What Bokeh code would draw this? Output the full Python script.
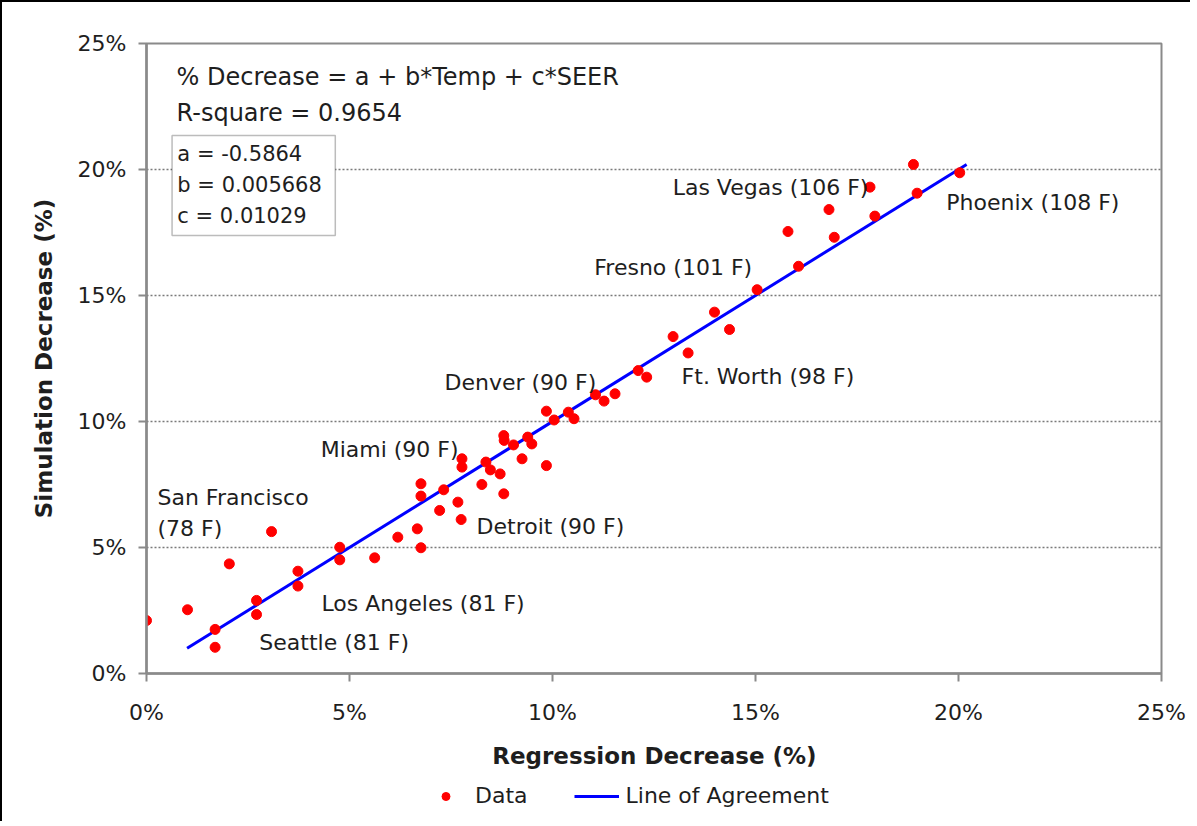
from bokeh.plotting import figure
from bokeh.layouts import column
from bokeh.models import (Range1d, FixedTicker, PrintfTickFormatter, Label,
                          BoxAnnotation, Legend, LegendItem, ColumnDataSource)
from bokeh.embed import file_html
from bokeh.resources import INLINE

# ---- data (percent) ----
regression = [0.00, 1.01, 1.69, 1.69, 2.04, 2.71, 2.71, 3.08, 3.73, 3.73,
              4.76, 4.76, 5.62, 6.19, 6.67, 6.76, 6.76, 6.76, 7.32, 7.22,
              7.67, 7.75, 7.77, 7.77, 8.26, 8.36, 8.47, 8.71, 8.80, 8.80,
              8.81, 9.04, 9.25, 9.39, 9.49, 9.85, 9.85, 10.04, 10.39, 10.53,
              11.06, 11.27, 11.54, 12.11, 12.32, 12.97, 13.34, 13.99, 14.36, 15.04,
              15.80, 16.06, 16.81, 16.94, 17.82, 17.94, 18.89, 18.98, 20.03]
simulation = [2.10, 2.53, 1.75, 1.04, 4.35, 2.90, 2.34, 5.63, 4.06, 3.47,
              5.01, 4.51, 4.59, 5.41, 5.74, 4.99, 7.53, 7.04, 7.29, 6.47,
              6.80, 6.11, 8.52, 8.19, 7.50, 8.39, 8.08, 7.92, 7.13, 9.44,
              9.25, 9.07, 8.52, 9.38, 9.11, 8.25, 10.41, 10.06, 10.37, 10.11,
              11.06, 10.81, 11.10, 12.02, 11.76, 13.37, 12.72, 14.34, 13.65, 15.23,
              17.54, 16.16, 18.41, 17.31, 19.30, 18.15, 20.20, 19.06, 19.87]
agree_x = [1.0, 20.2]
agree_y = [1.0, 20.2]
ticks = [0, 5, 10, 15, 20, 25]
grid_ticks = [5, 10, 15, 20]
x_title = "Regression Decrease (%)"
y_title = "Simulation Decrease (%)"
series_names = ["Data", "Line of Agreement"]

FONT = "DejaVu Sans"
TXT = "#1e1e1e"
GRAY = "#8a8a8a"
BORDER = "2px solid black"
RED = "#ff0000"
BLUE = "#0000ff"

p = figure(width=1190, height=731,
           output_backend="svg", toolbar_location=None,
           x_range=Range1d(0, 25), y_range=Range1d(0, 25),
           min_border_left=144, min_border_right=31, min_border_top=41,
           min_border_bottom=60, background_fill_color="white",
           border_fill_color="white",
           styles={"border-left": BORDER, "border-top": BORDER})

p.outline_line_color = GRAY
p.outline_line_width = 2
p.xgrid.visible = False
p.ygrid.ticker = FixedTicker(ticks=grid_ticks)
p.ygrid.grid_line_color = "#7a7a7a"
p.ygrid.grid_line_dash = "2 2"
p.ygrid.grid_line_width = 1.5

for ax in (p.xaxis[0], p.yaxis[0]):
    ax.ticker = FixedTicker(ticks=ticks)
    ax.formatter = PrintfTickFormatter(format="%d%%")
    ax.axis_line_color = GRAY
    ax.axis_line_width = 2.5
    ax.major_tick_line_color = GRAY
    ax.major_tick_line_width = 2
    ax.major_tick_in = 0
    ax.major_tick_out = 8
    ax.minor_tick_line_color = None
    ax.major_label_text_font = FONT
    ax.major_label_text_font_size = "22px"
    ax.major_label_text_color = TXT
    ax.axis_label_text_font = FONT
    ax.axis_label_text_font_size = "23px"
    ax.axis_label_text_font_style = "bold"
    ax.axis_label_text_color = TXT

p.yaxis.axis_label = y_title
p.xaxis.major_label_standoff = 18
p.yaxis.major_label_standoff = 12
p.yaxis.axis_label_standoff = 18

ln = p.line(agree_x, agree_y, line_color=BLUE, line_width=3)
src = ColumnDataSource(dict(x=regression, y=simulation))
sc = p.scatter("x", "y", source=src, size=10, fill_color=RED, line_color=RED)

# coefficient box
p.add_layout(BoxAnnotation(left=0.63, right=4.65, top=21.35, bottom=17.38,
                           fill_color="white", fill_alpha=1.0,
                           line_color="#222222", line_width=1.5))

labels = [
    ("% Decrease = a + b*Temp + c*SEER", 0.74, 23.69, "24px"),
    ("R-square = 0.9654", 0.74, 22.26, "24px"),
    ("a = -0.5864", 0.76, 20.60, "21px"),
    ("b = 0.005668", 0.76, 19.40, "21px"),
    ("c = 0.01029", 0.76, 18.17, "21px"),
    ("San Francisco", 0.27, 6.98, "22px"),
    ("(78 F)", 0.27, 5.75, "22px"),
    ("Seattle (81 F)", 2.78, 1.23, "22px"),
    ("Los Angeles (81 F)", 4.31, 2.78, "22px"),
    ("Miami (90 F)", 4.29, 8.89, "22px"),
    ("Detroit (90 F)", 8.13, 5.83, "22px"),
    ("Denver (90 F)", 7.34, 11.55, "22px"),
    ("Ft. Worth (98 F)", 13.18, 11.79, "22px"),
    ("Fresno (101 F)", 11.03, 16.11, "22px"),
    ("Las Vegas (106 F)", 12.96, 19.29, "22px"),
    ("Phoenix (108 F)", 19.70, 18.69, "22px"),
]
for t, x, y, fs in labels:
    p.add_layout(Label(x=x, y=y, text=t, text_font=FONT, text_font_size=fs,
                       text_color=TXT, text_baseline="middle", text_align="left"))

# ---- bottom strip: x-axis title + legend ----
# y range of the strip lies above the data, so its series stay hidden and
# only serve the legend keys
q = figure(width=1190, height=90, output_backend="svg", toolbar_location=None,
           x_range=p.x_range, y_range=Range1d(100, 190),
           x_axis_type=None, y_axis_type=None, min_border=0,
           background_fill_color="white", border_fill_color="white",
           outline_line_color=None, styles={"border-left": BORDER})
q.xgrid.visible = False
q.ygrid.visible = False
q.add_layout(Label(x=12.51, y=166, text=x_title, text_font=FONT,
                   text_font_size="23px", text_font_style="bold",
                   text_color=TXT, text_align="center", text_baseline="middle"))

lln = q.line(agree_x, agree_y, line_color=BLUE, line_width=3)
lsc = q.scatter(regression, simulation, size=10, fill_color=RED, line_color=RED)
legend = Legend(items=[LegendItem(label=series_names[0], renderers=[lsc]),
                       LegendItem(label=series_names[1], renderers=[lln])],
                orientation="horizontal", location=(277, 13),
                border_line_color=None, background_fill_alpha=0,
                label_text_font=FONT, label_text_font_size="22px",
                label_text_color=TXT, glyph_width=45, glyph_height=20,
                label_standoff=7, spacing=46, padding=5, margin=0)
q.add_layout(legend)

open("out.html", "w").write(file_html(column(p, q, spacing=0), INLINE))
